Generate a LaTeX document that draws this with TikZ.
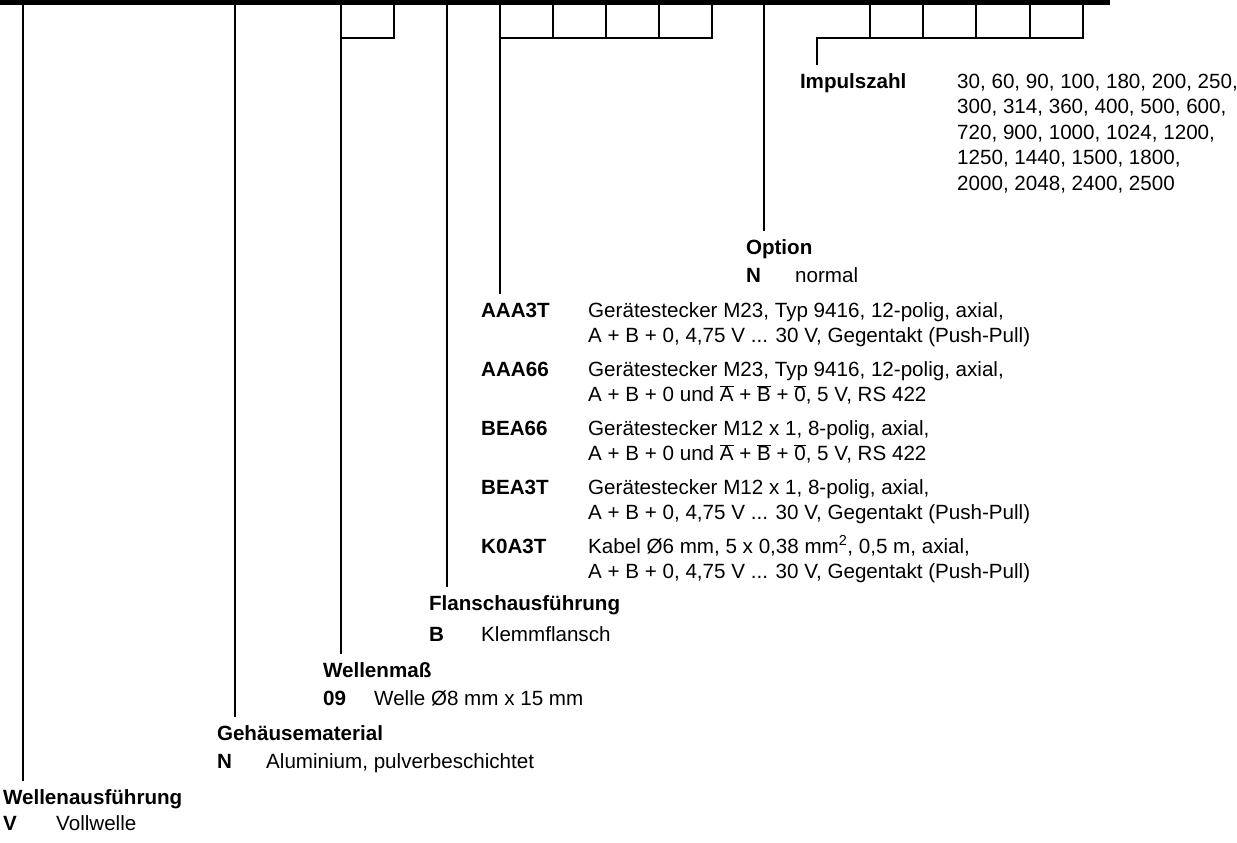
\documentclass[tikz,border=0pt]{standalone}
\usepackage{fontspec}
\setmainfont{Liberation Sans}
\newcommand\keyfont{\fontsize{20.6}{25.5}\selectfont}
\newcommand\ovl[1]{$\overline{\mbox{#1}}$}
\tikzset{
  kbar/.style={line width=5.5pt},
  kline/.style={line width=2pt},
  ktext/.style={anchor=base west,inner sep=0pt,font=\keyfont},
  khead/.style={ktext,font=\keyfont\bfseries,text height=14.7pt,text depth=0pt,
                outer xsep=0pt,outer ysep=8.5pt},
  kcode/.style={ktext,font=\keyfont\bfseries},
}

\begin{document}
\begin{tikzpicture}[x=1pt,y=-1pt]
    \useasboundingbox (0,0) rectangle (1237,843);
    % type key bar
    \draw[kbar] (0,2.75) -- (1110,2.75);
    \coordinate (tV) at (23,5);
    \coordinate (tN) at (235,5);
    \coordinate (tW) at (341,5);
    \coordinate (tB) at (447,5);
    \coordinate (tA) at (500,5);
    \coordinate (tO) at (764,5);
    \coordinate (tI) at (817,38);

    % Impulszahl
    \node[khead] (hI) at (800,88.4) {Impulszahl};
    \node[ktext] (iI1) at (957,88.4) {30, 60, 90, 100, 180, 200, 250,};
    \node[ktext] (iI2) at (957,113.9) {300, 314, 360, 400, 500, 600,};
    \node[ktext] (iI3) at (957,139.4) {720, 900, 1000, 1024, 1200,};
    \node[ktext] (iI4) at (957,164.9) {1250, 1440, 1500, 1800,};
    \node[ktext] (iI5) at (957,190.4) {2000, 2048, 2400, 2500};

    % Option
    \node[khead] (hO) at (746,254.4) {Option};
    \node[kcode] (cO) at (746,282.4) {N};
    \node[ktext] (dO) at (795,282.4) {normal};

    % Anschluss
    \node[khead] (hA) at (481,317.4) {AAA3T};
    \node[ktext] at (588,317.4) {Gerätestecker M23, Typ 9416, 12-polig, axial,};
    \node[ktext] at (588,342.9) {A + B + 0, 4,75 V ... 30 V, Gegentakt (Push-Pull)};
    \node[kcode] at (481,376.4) {AAA66};
    \node[ktext] at (588,376.4) {Gerätestecker M23, Typ 9416, 12-polig, axial,};
    \node[ktext] at (588,401.9) {A + B + 0 und \ovl{A} + \ovl{B} + \ovl{0}, 5 V, RS 422};
    \node[kcode] at (481,435.4) {BEA66};
    \node[ktext] at (588,435.4) {Gerätestecker M12 x 1, 8-polig, axial,};
    \node[ktext] at (588,460.9) {A + B + 0 und \ovl{A} + \ovl{B} + \ovl{0}, 5 V, RS 422};
    \node[kcode] at (481,494.4) {BEA3T};
    \node[ktext] at (588,494.4) {Gerätestecker M12 x 1, 8-polig, axial,};
    \node[ktext] at (588,519.9) {A + B + 0, 4,75 V ... 30 V, Gegentakt (Push-Pull)};
    \node[kcode] at (481,553.4) {K0A3T};
    \node[ktext] at (588,553.4) {Kabel Ø6 mm, 5 x 0,38 mm\textsuperscript{2}, 0,5 m, axial,};
    \node[ktext] at (588,578.9) {A + B + 0, 4,75 V ... 30 V, Gegentakt (Push-Pull)};

    % Flansch, Welle, Gehaeuse
    \node[khead] (hB) at (429,610.4) {Flanschausführung};
    \node[kcode] at (429,641.4) {B};
    \node[ktext] at (481,641.4) {Klemmflansch};
    \node[khead] (hW) at (323,677.4) {Wellenmaß};
    \node[kcode] at (323,705.4) {09};
    \node[ktext] at (374,705.4) {Welle Ø8 mm x 15 mm};
    \node[khead] (hN) at (217,740.4) {Gehäusematerial};
    \node[kcode] at (217,768.4) {N};
    \node[ktext] at (266,768.4) {Aluminium, pulverbeschichtet};
    \node[khead] (hV) at (3,804.4) {Wellenausführung};
    \node[kcode] at (3,830.4) {V};
    \node[ktext] at (56,830.4) {Vollwelle};

    % connectors
    \draw[kline] (tV) -- (tV |- hV.north);
    \draw[kline] (tN) -- (tN |- hN.north);
    \draw[kline] (tW) -- (tW |- hW.north);
    \draw[kline] (tB) -- (tB |- hB.north);
    \draw[kline] (tA) -- (tA |- hA.north);
    \draw[kline] (tO) -- (tO |- hO.north);
    \draw[kline] (tI |- hI.north) -- (tI) -- (1083,38) -- (1083,5);
    \draw[kline] (341,38) -- (394,38) -- (394,5);
    \draw[kline] (500,38) -- (712,38) -- (712,5);
    \foreach \x in {553,606,659,870,923,976,1030}
      \draw[kline] (\x,5) -- (\x,38);
\end{tikzpicture}
\end{document}
